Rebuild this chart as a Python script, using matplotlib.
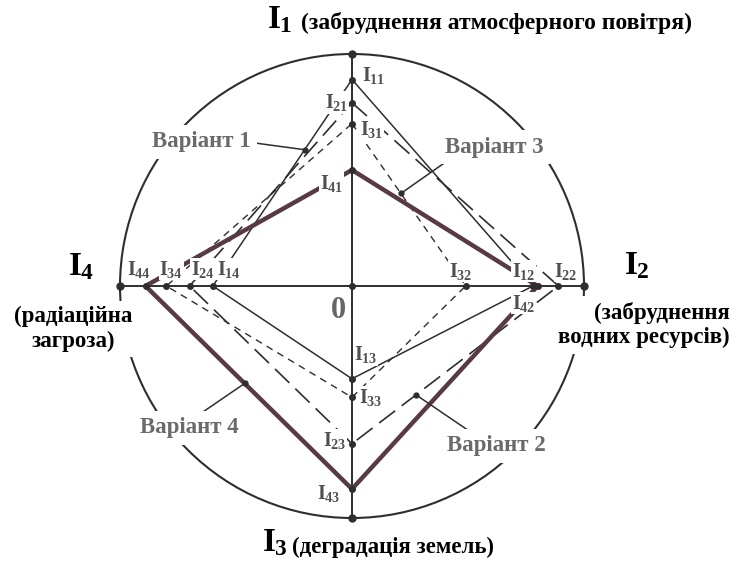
import numpy as np
import matplotlib
matplotlib.use('Agg')
import matplotlib.pyplot as plt
from matplotlib.patches import Circle

plt.rcParams['font.family'] = ['Liberation Serif', 'DejaVu Serif']
plt.rcParams['font.weight'] = 'bold'
plt.rcParams['mathtext.fontset'] = 'custom'
plt.rcParams['mathtext.rm'] = 'Liberation Serif:bold'
plt.rcParams['mathtext.it'] = 'Liberation Serif:bold'
plt.rcParams['mathtext.bf'] = 'Liberation Serif:bold'

# Дані: значення показників на осях (частка радіуса кола)
axis_names = ['1', '2', '3', '4']
axis_angles = [90, 0, 270, 180]
variant_1 = [0.89, 0.78, 0.40, 0.60]
variant_2 = [0.79, 0.89, 0.68, 0.70]
variant_3 = [0.70, 0.49, 0.48, 0.80]
variant_4 = [0.50, 0.80, 0.875, 0.89]
variants = [variant_1, variant_2, variant_3, variant_4]
variant_names = ['Варіант 1', 'Варіант 2', 'Варіант 3', 'Варіант 4']
axis_titles = ['(забруднення атмосферного повітря)',
               '(забруднення\nводних ресурсів)',
               '(деградація земель)',
               '(радіаційна\nзагроза)']

# геометрія малюнка в пікселях
W, H = 732, 562
CX, CY, R = 352, 286, 232


def px(x, y):
    # піксельні координати -> координати осей
    return (x - CX) / R, (CY - y) / R


def point(k, v):
    a = np.deg2rad(axis_angles[k])
    return v * np.cos(a), v * np.sin(a)


fig = plt.figure(figsize=(W / 100, H / 100), dpi=100)
ax = fig.add_axes([0, 0, 1, 1])
ax.set_xlim(-CX / R, (W - CX) / R)
ax.set_ylim(-(H - CY) / R, CY / R)
ax.set_aspect('equal')
ax.axis('off')

dark = '#2e2e2e'
thick = '#573a43'
grey_txt = '#505050'

# коло та осі
ax.add_patch(Circle((0, 0), 1, fill=False, lw=1.5, ec=dark, zorder=1))
ax.plot([-1, 1], [0, 0], color=dark, lw=1.4, zorder=2)
ax.plot([0, 0], [-1, 1], color=dark, lw=1.4, zorder=2)
for k in range(4):
    x, y = point(k, 1)
    ax.plot(x, y, 'o', color=dark, ms=5, zorder=6)
ax.plot(0, 0, 'o', color=dark, ms=4, zorder=6)

# стилі варіантів
styles = [dict(color=dark, lw=1.1, ls='-'),
          dict(color=dark, lw=1.2, ls=(0, (12, 5))),
          dict(color=dark, lw=1.0, ls=(0, (5, 4))),
          dict(color=thick, lw=3.2, ls='-')]

for i, vals in enumerate(variants):
    pts = [point(k, vals[k]) for k in range(4)]
    xs = [p[0] for p in pts] + [pts[0][0]]
    ys = [p[1] for p in pts] + [pts[0][1]]
    ax.plot(xs, ys, zorder=3, solid_capstyle='round', **styles[i])
    ax.plot(xs[:-1], ys[:-1], 'o', color=dark, ms=4, zorder=5)

# підписи точок I_ij: (варіант, вісь) -> зсув у пікселях, фон
label_pos = {
    (0, 0): (10, 4, 'left', True), (1, 0): (-4, 0, 'right', True),
    (2, 0): (8, -6, 'left', True), (3, 0): (-9, -13, 'right', True),
    (0, 1): (2, 15, 'right', True), (1, 1): (-4, 15, 'left', True),
    (2, 1): (-17, 15, 'left', True), (3, 1): (-2, -17, 'right', True),
    (0, 2): (2, 24, 'left', True), (1, 2): (-6, 3, 'right', True),
    (2, 2): (7, 0, 'left', True), (3, 2): (-12, -5, 'right', False),
    (0, 3): (4, 17, 'left', True), (1, 3): (1, 17, 'left', True),
    (2, 3): (-7, 17, 'left', True), (3, 3): (-19, 17, 'left', True),
}
for (i, k), (dx, dy, ha, boxed) in label_pos.items():
    x, y = point(k, variants[i][k])
    box = dict(fc='white', ec='none', pad=0.6) if boxed else None
    ax.annotate(r'$I_{%d%d}$' % (i + 1, k + 1), (x, y), xytext=(dx, dy),
                textcoords='offset pixels', ha=ha, va='center',
                fontsize=14.5, color=grey_txt, zorder=7, bbox=box)

# підписи варіантів з виносками: (вісь від, вісь до, частка відрізка, центр тексту)
leaders = [(3, 0, 0.66, (201, 142)),
           (2, 1, 0.31, (496, 446)),
           (0, 1, 0.43, (494, 147)),
           (3, 2, 0.48, (189, 428))]
text_end = [(255, 143), (478, 437), (450, 159), (197, 416)]
for i, (ka, kb, t, (tx, ty)) in enumerate(leaders):
    xa, ya = point(ka, variants[i][ka])
    xb, yb = point(kb, variants[i][kb])
    lx, ly = xa + t * (xb - xa), ya + t * (yb - ya)
    ex, ey = px(*text_end[i])
    ax.plot([ex, lx], [ey, ly], color=dark, lw=1.1, zorder=4)
    ax.plot(lx, ly, 'o', color=dark, ms=3.5, zorder=5)
    ax.text(*px(tx, ty), variant_names[i], ha='center', va='center', fontsize=16.5,
            color='#6a6a6a', zorder=8,
            bbox=dict(fc='white', ec='none', pad=5))

# нуль
ax.text(*px(338, 310), '0', ha='center', va='center', fontsize=22, color='#666666', zorder=8)

# назви осей
ax.text(*px(267, 28), r'$I_1$', ha='left', va='baseline', fontsize=24, color='black')
ax.text(*px(301, 29), axis_titles[0], ha='left', va='baseline', fontsize=17, color='black')

ax.text(*px(624, 274), r'$I_2$', ha='left', va='baseline', fontsize=24, color='black')
ax.text(*px(730, 325), axis_titles[1], ha='right', va='center', fontsize=16.5,
        color='black', multialignment='right', linespacing=1.2,
        bbox=dict(fc='white', ec='none', pad=4), zorder=8)

ax.text(*px(262, 551), r'$I_3$', ha='left', va='baseline', fontsize=24, color='black')
ax.text(*px(292, 553), axis_titles[2], ha='left', va='baseline', fontsize=16.5, color='black')

ax.text(*px(68, 275), r'$I_4$', ha='left', va='baseline', fontsize=24, color='black')
ax.text(*px(73, 329), axis_titles[3], ha='center', va='center', fontsize=16.5,
        color='black', multialignment='center', linespacing=1.2,
        bbox=dict(fc='white', ec='none', pad=4), zorder=8)

fig.savefig('out.png', dpi=100, facecolor='white')
